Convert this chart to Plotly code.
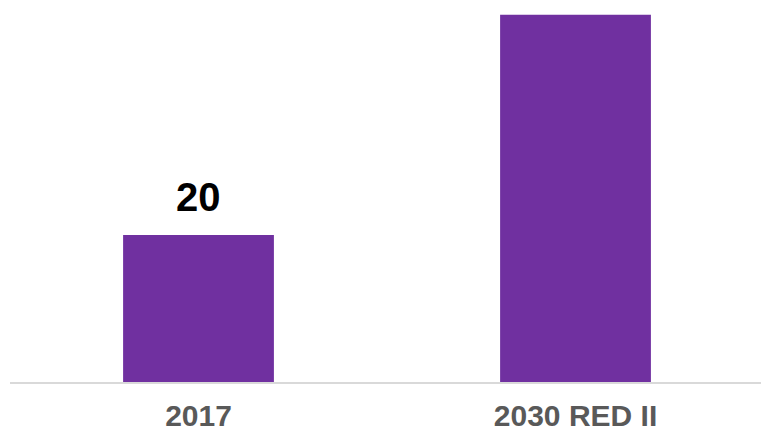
import plotly.graph_objects as go

categories = ["2017", "2030 RED II"]
values = [20, 50]
value_labels = ["20", ""]

BAR_COLOR = "#7030A0"

fig = go.Figure()
fig.add_trace(go.Bar(
    x=categories,
    y=values,
    marker=dict(color=BAR_COLOR, line=dict(width=0)),
    width=0.4,
    hoverinfo="skip",
))

annotations = []
for i, (val, lab) in enumerate(zip(values, value_labels)):
    if lab:
        annotations.append(dict(
            x=i, y=val, xref="x", yref="y",
            text="<b>" + lab + "</b>", showarrow=False,
            xanchor="center", yanchor="bottom", yshift=14,
            font=dict(family="Arial", size=40, color="#000000"),
        ))

fig.update_layout(
    width=761, height=432,
    margin=dict(l=10, r=0, t=0, b=50),
    paper_bgcolor="white",
    plot_bgcolor="white",
    showlegend=False,
    annotations=annotations,
    xaxis=dict(
        type="category",
        range=[-0.5, 1.492],
        automargin=False,
        showgrid=False,
        showline=True,
        linecolor="#D9D9D9",
        linewidth=2,
        ticks="outside",
        ticklen=6,
        tickcolor="rgba(0,0,0,0)",
        tickfont=dict(family="Arial", size=30, color="#595959"),
        tickprefix="<b>", ticksuffix="</b>",
    ),
    yaxis=dict(
        range=[0, 52],
        visible=False,
        showgrid=False,
        zeroline=False,
        automargin=False,
    ),
)

fig.write_html("out.html")
